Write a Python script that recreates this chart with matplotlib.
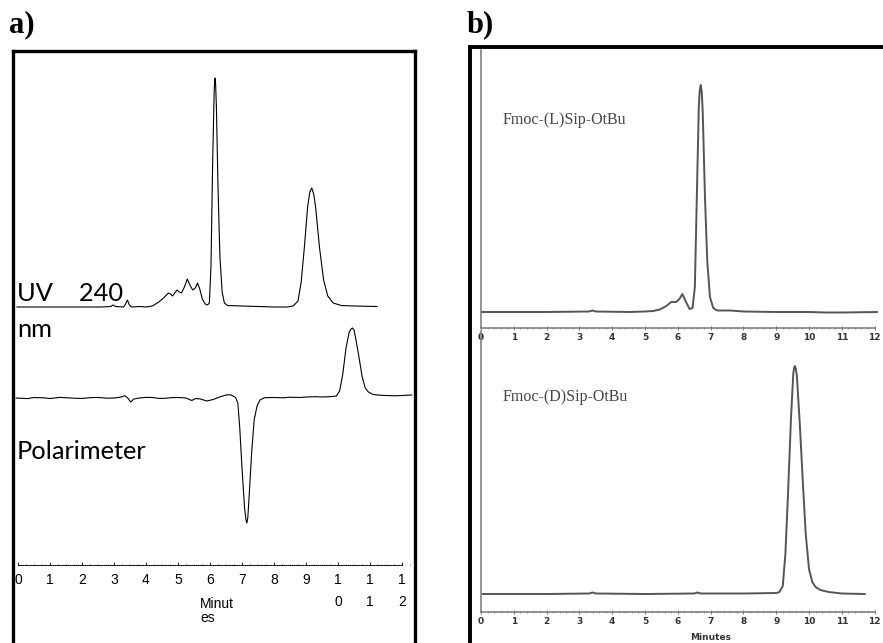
import matplotlib
matplotlib.use("Agg")
import matplotlib.pyplot as plt
from matplotlib.ticker import MultipleLocator

W, H = 883, 643

# ---- panel a) : UV 240 nm trace (minutes, signal) ----
uv_t = [-0.03, 2.6, 2.9, 2.97, 3.05, 3.3, 3.36, 3.42, 3.48, 3.55, 3.8, 4.0, 4.2,
        4.4, 4.55, 4.7, 4.77, 4.83, 4.9, 4.97, 5.04, 5.11, 5.2, 5.29, 5.37, 5.46,
        5.54, 5.61, 5.68, 5.76, 5.85, 5.92, 5.98, 6.03, 6.08, 6.13, 6.145, 6.16,
        6.175, 6.20, 6.25, 6.31, 6.38, 6.45, 6.55, 7.0, 7.5, 8.0, 8.4, 8.6, 8.75,
        8.85, 8.95, 9.05, 9.12, 9.18, 9.24, 9.3, 9.42, 9.55, 9.68, 9.85, 10.1,
        10.5, 11.22]
uv_sig = [0, 0, 0.5, 2, 0.5, 0, 3, 7, 2, 0, 0.5, 0, 1,
          5, 9, 14, 13, 11, 14, 17, 15, 14, 20, 28, 22, 17,
          19, 24, 18, 8, 3, 2, 4, 40, 140, 215, 226, 229,
          223, 200, 120, 50, 15, 4, 1.5, 1, 0.5, 0, 0, 1, 6,
          25, 60, 100, 115, 119, 113, 100, 60, 27, 11, 4, 1.5,
          1, 0.5]

# ---- panel a) : polarimeter trace ----
pol_t = [-0.06, 0.3, 0.5, 0.8, 1.0, 1.3, 1.5, 1.8, 2.0, 2.3, 2.5, 2.8, 3.0, 3.2,
         3.34, 3.43, 3.52, 3.62, 3.8, 4.0, 4.2, 4.4, 4.6, 4.8, 5.0, 5.25, 5.43,
         5.55, 5.7, 5.9, 6.1, 6.3, 6.5, 6.63, 6.72, 6.8, 6.87, 6.93, 7.0, 7.08,
         7.12, 7.15, 7.18, 7.22, 7.3, 7.38, 7.47, 7.56, 7.7, 8.0, 8.3, 8.5, 8.8,
         9.0, 9.3, 9.5, 9.8, 9.95, 10.05, 10.15, 10.25, 10.35, 10.41, 10.45,
         10.5, 10.55, 10.65, 10.75, 10.85, 10.95, 11.1, 11.3, 11.5, 11.8, 12.0,
         12.3]
pol_sig = [0, -0.6, 0.5, 0.2, -0.5, 0.6, 0.3, -0.3, -0.4, 0.4, 0.5, -0.2, 0, 0.8,
           2.3, 0, -4, -1, 0, 0.6, 0.5, -0.4, -0.3, 0.4, 0.5, 0, -2.5,
           -0.5, -1, -3, -1.5, 1, 3, 3.3, 2, 0.5, -5, -30, -70, -110,
           -121, -125, -120, -100, -55, -22, -8, -2, 0.3, 0.5, 0.2, 0.8, 0.5,
           1, 1.3, 1, 1.4, 2, 7, 24, 50, 66, 69, 70,
           68, 60, 42, 22, 10, 6, 3.5, 2.8, 2.5, 2.2, 2.5,
           3]

a_ticks = list(range(13))
a_ticklabels = ["0", "1", "2", "3", "4", "5", "6", "7", "8", "9",
                "1\n0", "1\n1", "1\n2"]

# ---- panel b) : Fmoc-(L)Sip-OtBu and Fmoc-(D)Sip-OtBu ----
l_t = [0.03, 1.0, 2.0, 3.3, 3.4, 3.5, 4.5, 5.0, 5.25, 5.45, 5.65, 5.8, 5.95,
       6.05, 6.14, 6.25, 6.36, 6.45, 6.52, 6.58, 6.64, 6.67, 6.70, 6.73, 6.76,
       6.83, 6.9, 6.98, 7.08, 7.2, 7.6, 8.0, 9.0, 10.0, 10.5, 11.0, 12.07]
l_sig = [0, 0, 0, 0.5, 1.5, 0.5, 0, 0.5, 1, 2.5, 6, 10, 10,
         13, 18, 10, 3, 4, 25, 115, 205, 222, 227, 220, 200,
         113, 50, 15, 4, 1.5, 1.5, 0.5, 0, 0, -0.5, -0.5, 0]

d_t = [0.06, 1.0, 2.0, 3.3, 3.4, 3.5, 5.0, 6.5, 6.6, 6.7, 8.0, 9.0, 9.1, 9.2,
       9.28, 9.36, 9.45, 9.52, 9.545, 9.57, 9.60, 9.63, 9.72, 9.81, 9.9, 10.0,
       10.1, 10.2, 10.35, 10.6, 11.0, 11.7]
d_sig = [0, 0, 0, 0.5, 1.5, 0.5, 0, 0.5, 1.5, 0.5, 0.5, 1, 2, 8,
         40, 100, 175, 220, 226, 228, 225, 218, 170, 113, 60, 25,
         12, 7, 4, 2, 0.5, 0]

b_ticks = list(range(13))


def px_axes(fig, x0, y0, x1, y1):
    # axes placed by pixel box (top-left origin)
    return fig.add_axes([x0 / W, 1 - y1 / H, (x1 - x0) / W, (y1 - y0) / H])


def ftext(fig, x, y, s, **kw):
    return fig.text(x / W, 1 - y / H, s, **kw)


fig = plt.figure(figsize=(W / 100, H / 100), dpi=100)

# ---------------- panel a ----------------
a_xlim = (-0.156, 12.406)

ax_time = px_axes(fig, 13, 51, 415, 643)
ax_time.set_xlim(a_xlim)
ax_time.set_ylim(0, 592)
ax_time.patch.set_alpha(0)
for s in ["top", "left", "right"]:
    ax_time.spines[s].set_visible(False)
ax_time.spines["bottom"].set_position(("data", 643 - 565))
ax_time.spines["bottom"].set_bounds(0, 12)
ax_time.spines["bottom"].set_linestyle((0, (1, 1.2)))
ax_time.spines["bottom"].set_linewidth(0.7)
ax_time.set_yticks([])
ax_time.set_xticks(a_ticks)
ax_time.set_xticklabels(a_ticklabels, fontsize=10, family="Liberation Sans")
for lbl in ax_time.get_xticklabels():
    lbl.set_linespacing(1.75)
ax_time.xaxis.set_minor_locator(MultipleLocator(0.25))
ax_time.tick_params(axis="x", which="major", direction="in", length=2.5, width=0.6, pad=5.5)
ax_time.tick_params(axis="x", which="minor", direction="in", length=1.0, width=0.4)
ax_time.text((200 - 18) / 32, 643 - 597, "Minut\nes", fontsize=10,
             family="Liberation Sans", ha="left", va="top", linespacing=1.0)

ax_uv = px_axes(fig, 13, 51, 415, 643)
ax_uv.set_xlim(a_xlim)
ax_uv.set_ylim(-336, 256)
ax_uv.axis("off")
ax_uv.plot(uv_t, uv_sig, color="black", lw=0.8)

ax_pol = px_axes(fig, 13, 51, 415, 643)
ax_pol.set_xlim(a_xlim)
ax_pol.set_ylim(-245, 347)
ax_pol.axis("off")
ax_pol.plot(pol_t, pol_sig, color="black", lw=0.8)

ax_box_a = px_axes(fig, 13, 51, 415, 680)
ax_box_a.patch.set_alpha(0)
ax_box_a.set_xticks([])
ax_box_a.set_yticks([])
ax_box_a.spines["bottom"].set_visible(False)
for s in ["top", "left", "right"]:
    ax_box_a.spines[s].set_linewidth(2.4)

lab_font = dict(family="Lato", fontsize=18.3, color="black", ha="left", va="baseline")
ftext(fig, 17, 301, "UV    240", **lab_font)
ftext(fig, 17, 337, "nm", **lab_font)
ftext(fig, 17, 459, "Polarimeter", **lab_font)

# ---------------- panel b ----------------
b_col = "#555555"
b_xlim = (0, (878 - 481) / 32.8)


def style_b(ax):
    ax.set_xlim(b_xlim)
    ax.patch.set_alpha(0)
    ax.spines["top"].set_visible(False)
    ax.spines["right"].set_visible(False)
    for s in ["left", "bottom"]:
        ax.spines[s].set_color("#777777")
        ax.spines[s].set_linewidth(1.1)
    ax.spines["bottom"].set_bounds(0, 12)
    ax.set_yticks([])
    ax.set_xticks(b_ticks)
    ax.set_xticklabels([str(v) for v in b_ticks], fontsize=6.5,
                       fontweight="bold", color="#333333", family="DejaVu Sans")
    ax.xaxis.set_minor_locator(MultipleLocator(0.2))
    ax.tick_params(axis="x", which="major", direction="inout", length=3,
                   width=0.7, color="#777777", pad=2)
    ax.tick_params(axis="x", which="minor", direction="inout", length=1.6,
                   width=0.5, color="#777777")


ax_l = px_axes(fig, 481, 50, 878, 328)
style_b(ax_l)
ax_l.set_ylim(-16, 262)
ax_l.plot(l_t, l_sig, color=b_col, lw=1.4, clip_on=False)

ax_d = px_axes(fig, 481, 331, 878, 612)
style_b(ax_d)
ax_d.set_ylim(-18, 263)
ax_d.plot(d_t, d_sig, color=b_col, lw=1.4, clip_on=False)
ftext(fig, 690, 638, "Minutes", fontsize=6.5, fontweight="bold",
      color="#333333", family="DejaVu Sans", ha="left", va="center")

name_font = dict(family="Liberation Serif", fontsize=11.5, color="#444444",
                 ha="left", va="center")
ftext(fig, 503, 120, "Fmoc-(L)Sip-OtBu", **name_font)
ftext(fig, 503, 397, "Fmoc-(D)Sip-OtBu", **name_font)

ax_box_b = px_axes(fig, 470, 47.5, 920, 680)
ax_box_b.patch.set_alpha(0)
ax_box_b.set_xticks([])
ax_box_b.set_yticks([])
ax_box_b.spines["bottom"].set_visible(False)
ax_box_b.spines["right"].set_visible(False)
for s in ["top", "left"]:
    ax_box_b.spines[s].set_linewidth(2.8)

# panel letters
letter_font = dict(family="Liberation Serif", fontweight="bold", fontsize=22,
                   ha="left", va="center")
ftext(fig, 9, 25, "a)", **letter_font)
ftext(fig, 467, 25, "b)", **letter_font)

fig.savefig("out.png", dpi=100)
